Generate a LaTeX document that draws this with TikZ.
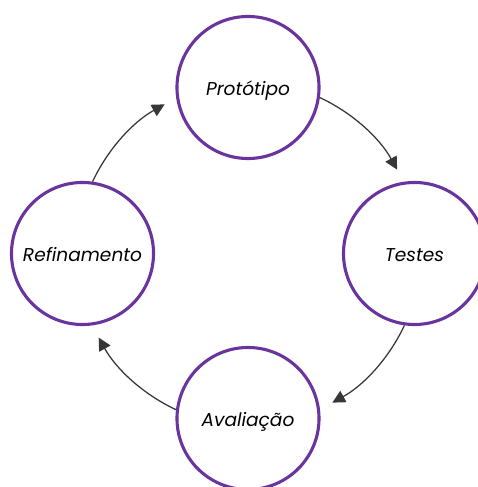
\documentclass[tikz,border=0pt]{standalone}
\usepackage{fontspec}
\setmainfont{Poppins}
\usetikzlibrary{arrows.meta}
\definecolor{stagepurple}{RGB}{106,52,158}
\definecolor{flowgray}{RGB}{55,55,55}

\begin{document}
\begin{tikzpicture}[x=0.025cm,y=0.025cm,
  every node/.style={font=\fontsize{13.2}{15}\selectfont\itshape},
  stage/.style={circle,draw=stagepurple,line width=2.2pt,fill=white,minimum size=3.55cm,inner sep=0pt,text height=13pt,text depth=1.5pt},
  flow/.style={flowgray,line width=0.9pt,-{Triangle[length=9pt,width=9pt]}}]
  \useasboundingbox (0,0) rectangle (478,487);
  \node[stage] (prot) at (248,399.5) {Protótipo};
  \node[stage] (test) at (414.5,233.5) {Testes};
  \node[stage] (aval) at (248,68.5) {Avaliação};
  \node[stage] (refi) at (82.5,233.5) {Refinamento};
  \foreach \n/\a/\s in {prot/-8/65,test/262/-25,aval/173/245,refi/82/155}{
    \draw[flow] (\n.\a) arc[start angle=\s,end angle=\s-36,radius=171];
  }
\end{tikzpicture}
\end{document}
